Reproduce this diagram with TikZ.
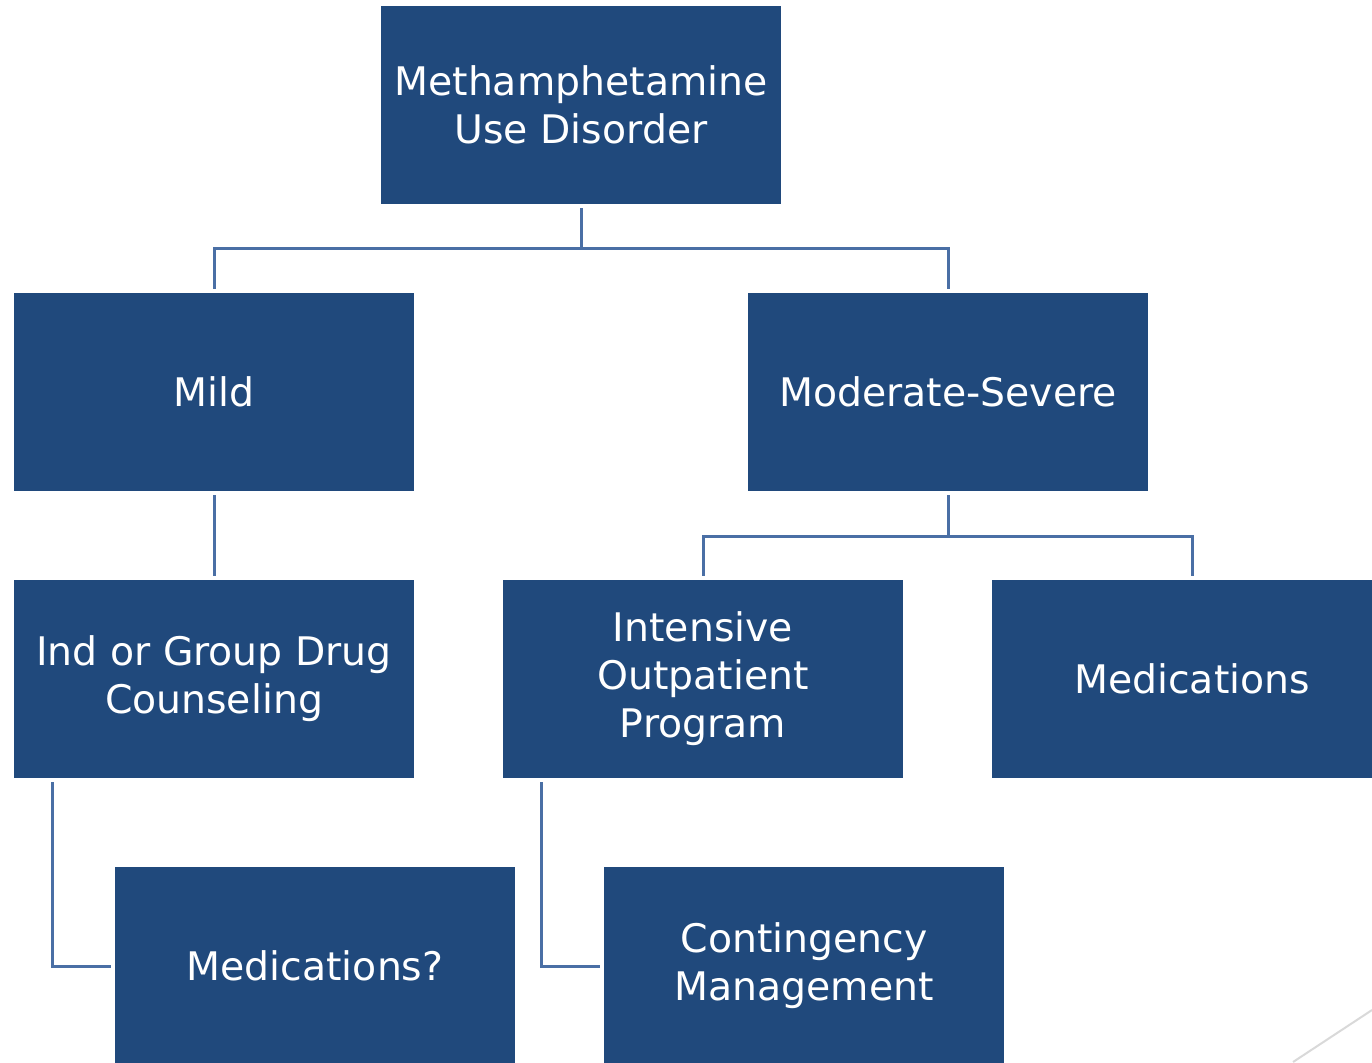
\documentclass[tikz,border=0pt]{standalone}
\usepackage{fontspec}
\newfontfamily\boxfont{DejaVu Sans}
\usetikzlibrary{positioning}

\definecolor{boxblue}{RGB}{32,73,124}
\definecolor{linkblue}{RGB}{74,111,165}

\tikzset{
    stage/.style={fill=boxblue, text=white, align=center, minimum width=4cm,
        minimum height=1.98cm, inner sep=0pt, outer sep=0.04cm,
        font=\boxfont\fontsize{11.2}{13.65}\selectfont},
    link/.style={draw=linkblue, line width=0.03cm}
}

\begin{document}
\begin{tikzpicture}
\useasboundingbox (0,0) rectangle (13.72,-10.62);
\clip (0,0) rectangle (13.72,-10.62);
\node[stage] (meth) at (5.81,-1.05) {Methamphetamine\\Use Disorder};
\node[stage] (mild) at (2.14,-3.92) {Mild};
\node[stage] (modsev) at (9.48,-3.92) {Moderate-Severe};
\node[stage] (counsel) at (2.14,-6.79) {Ind or Group Drug\\Counseling};
\node[stage] (iop) at (7.03,-6.79) {Intensive\\Outpatient\\Program};
\node[stage] (meds) at (11.92,-6.79) {Medications};
\node[stage] (medsq) at (3.15,-9.66) {Medications?};
\node[stage] (cm) at (8.04,-9.66) {Contingency\\Management};
% tree links
\path[link] (meth.south) -- ++(0,-0.40) -| (mild.north);
\path[link] (meth.south) -- ++(0,-0.40) -| (modsev.north);
\path[link] (mild.south) -- (counsel.north);
\path[link] (modsev.south) -- ++(0,-0.41) -| (iop.north);
\path[link] (modsev.south) -- ++(0,-0.41) -| (meds.north);
\path[link] ([xshift=0.42cm]counsel.south west) |- (medsq.west);
\path[link] ([xshift=0.42cm]iop.south west) |- (cm.west);
% corner decoration
\draw[black!15, line width=0.02cm] (13.72,-10.10) -- (12.93,-10.62);
\end{tikzpicture}
\end{document}
